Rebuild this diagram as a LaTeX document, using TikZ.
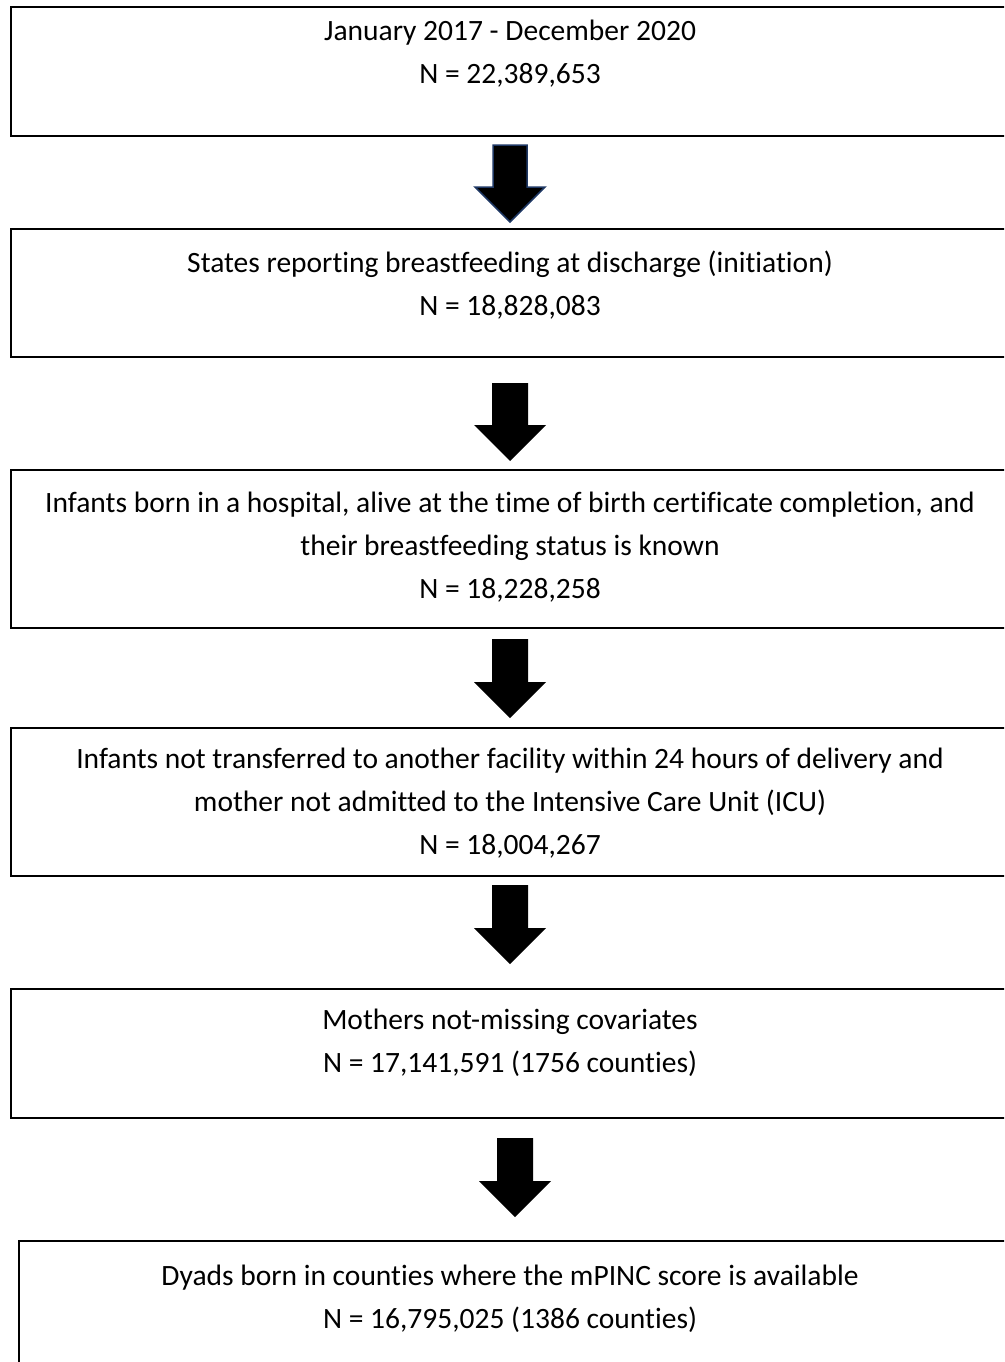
\documentclass[tikz,border=0pt]{standalone}
\usepackage{fontspec}
\setmainfont{Carlito}[Ligatures={NoCommon}]
\definecolor{navyline}{HTML}{1F3864}
\begin{document}
\begin{tikzpicture}[x=1pt,y=-1pt,
  flowbox/.style={draw=black,line width=2.6pt},
  flowtext/.style={align=center,inner sep=0pt,font=\fontsize{29.5}{43}\selectfont},
  fatarrow/.style={fill=black,draw=none}]
\useasboundingbox (0,0) rectangle (1004,1362);
\clip (0,0) rectangle (1004,1362);
% boxes
\draw[flowbox] (11,7) rectangle (1012,136);
\node[flowtext] (t1) at (510,53.5) {January 2017 - December 2020\\N = 22,389,653};
\draw[flowbox] (11,229) rectangle (1012,357);
\node[flowtext] (t2) at (510,285.5) {States reporting breastfeeding at discharge (initiation)\\N = 18,828,083};
\draw[flowbox] (11,470) rectangle (1012,628);
\node[flowtext] (t3) at (510,547) {Infants born in a hospital, alive at the time of birth certificate completion, and\\their breastfeeding status is known\\N = 18,228,258};
\draw[flowbox] (11,728) rectangle (1012,876);
\node[flowtext] (t4) at (510,803.5) {Infants not transferred to another facility within 24 hours of delivery and\\mother not admitted to the Intensive Care Unit (ICU)\\N = 18,004,267};
\draw[flowbox] (11,989) rectangle (1012,1118);
\node[flowtext] (t5) at (510,1042.5) {Mothers not-missing covariates\\N = 17,141,591 (1756 counties)};
\draw[flowbox] (19,1241) rectangle (1012,1380);
\node[flowtext] (t6) at (510,1298.5) {Dyads born in counties where the mPINC score is available\\N = 16,795,025 (1386 counties)};
% arrows
\filldraw[fill=black,draw=navyline,line width=1.5pt,line join=miter]
  (493,145) -- (527,145) -- (527,187) -- (545,187) -- (510,222) -- (475,187) -- (493,187) -- cycle;
\fill[fatarrow] (492,383) -- (528,383) -- (528,425) -- (546,425) -- (510,461) -- (474,425) -- (492,425) -- cycle;
\fill[fatarrow] (492,639) -- (528,639) -- (528,682) -- (546,682) -- (510,718) -- (474,682) -- (492,682) -- cycle;
\fill[fatarrow] (492,885) -- (528,885) -- (528,928) -- (546,928) -- (510,964) -- (474,928) -- (492,928) -- cycle;
\fill[fatarrow] (497,1138) -- (533,1138) -- (533,1181) -- (551,1181) -- (515,1217) -- (479,1181) -- (497,1181) -- cycle;
\end{tikzpicture}
\end{document}
